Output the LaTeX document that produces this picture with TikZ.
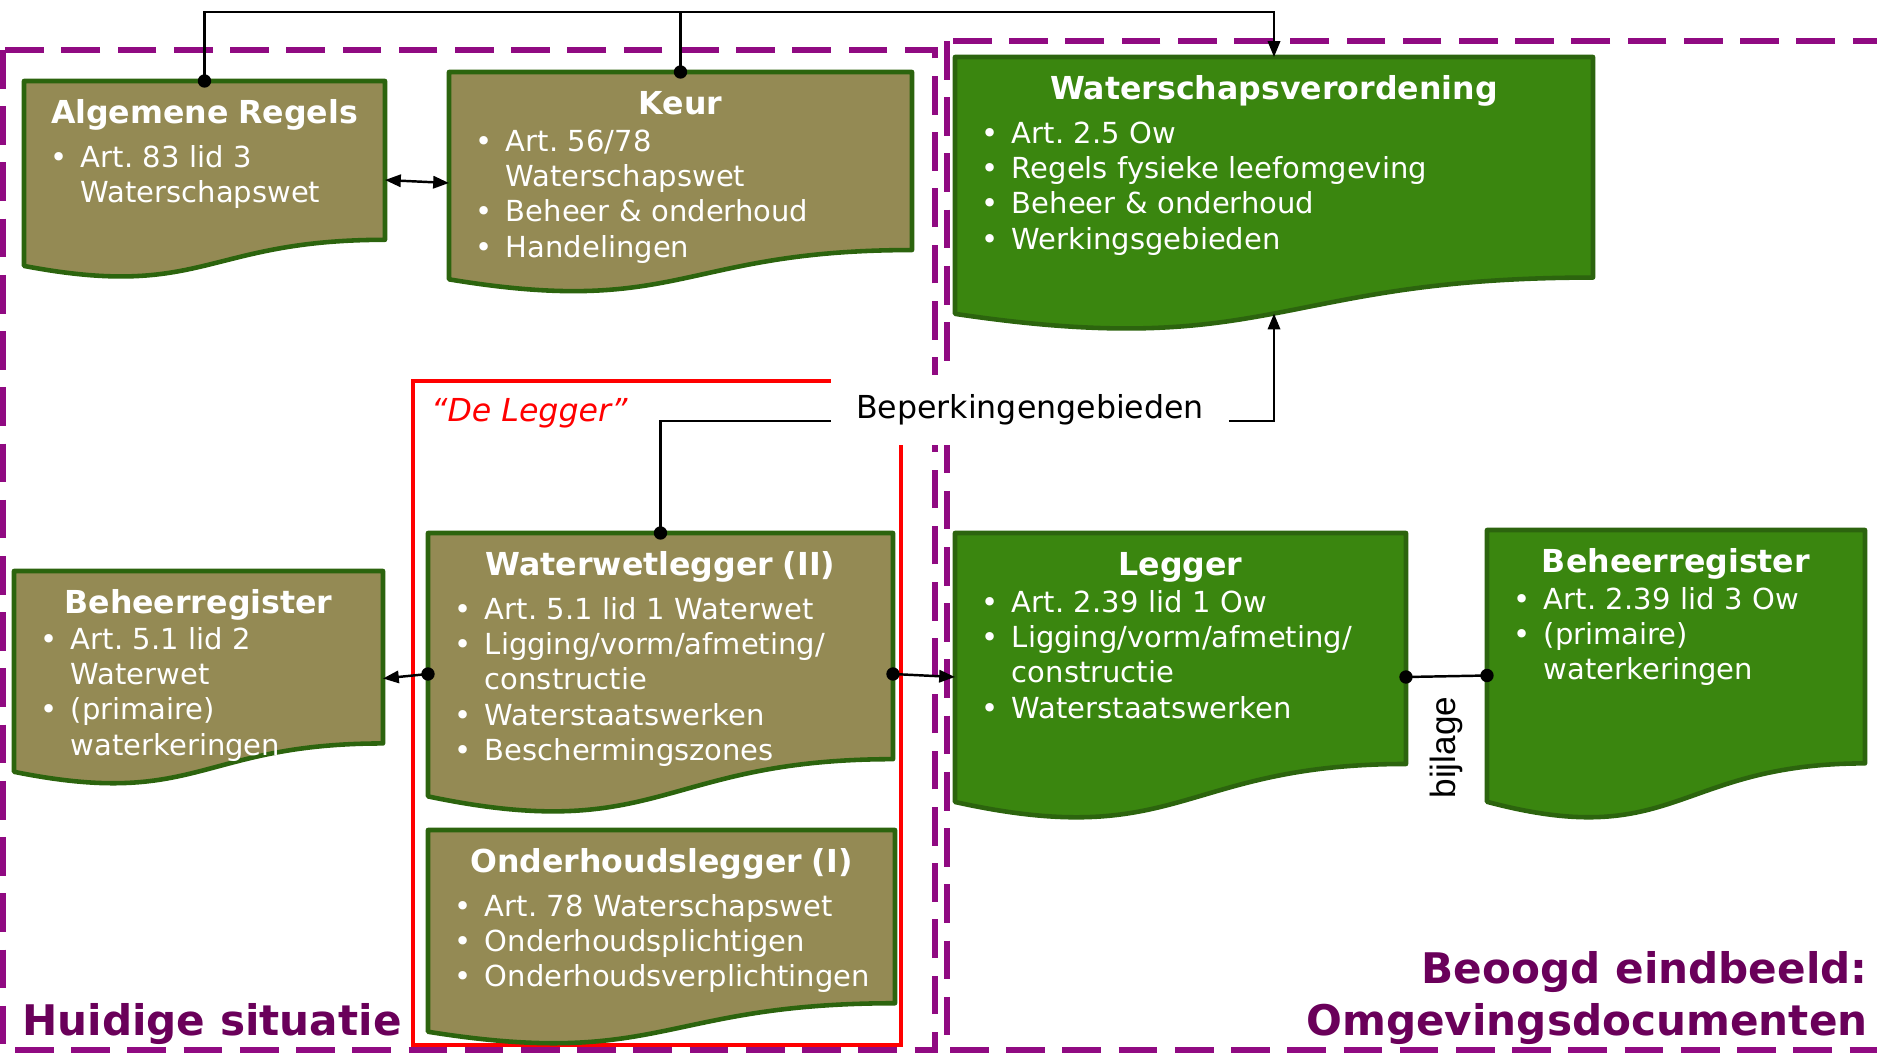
\documentclass[tikz,border=0pt]{standalone}
\usepackage{fontspec}
\setmainfont{DejaVu Sans}
\newfontfamily\bijlagefont{Liberation Sans}
\usetikzlibrary{arrows.meta,calc}
\frenchspacing

\definecolor{olivefill}{RGB}{148,138,84}
\definecolor{greenfill}{RGB}{58,134,15}
\definecolor{docborder}{RGB}{44,100,14}
\definecolor{dashpurple}{RGB}{144,10,130}
\definecolor{labelpurple}{RGB}{106,0,90}

\tikzset{
  ahead/.tip={Triangle[length=9pt,width=7pt]},
  docframe/.style={draw=none, inner sep=0pt, outer sep=0pt, anchor=north west},
  doctext/.style={anchor=north, inner sep=0pt, text=white, align=left,
    font=\fontsize{16.5}{20.1}\selectfont},
  olivedoc/.style={fill=olivefill, draw=docborder, line width=2.6pt, line join=round},
  greendoc/.style={fill=greenfill, draw=docborder, line width=2.6pt, line join=round},
  region/.style={draw=dashpurple, line width=3.4pt, dash pattern=on 22pt off 10pt},
  redframe/.style={draw=red, line width=2.5pt},
  conn/.style={draw=black, line width=1.4pt},
  regionlabel/.style={text=labelpurple, font=\bfseries\fontsize{24}{30}\selectfont, inner sep=0pt},
  beplabel/.style={fill=white, inner xsep=14pt, inner ysep=11pt, font=\fontsize{18}{22}\selectfont}
}

% title line, then gap before the first bullet
\newcommand{\doctitle}[2]{\noindent\makebox[\hsize]{\rule{0pt}{24pt}\bfseries\fontsize{18}{22}\selectfont #1}\par\vspace{#2}}
\newcommand{\docitem}[1]{\par\noindent\hspace*{14.8pt}\makebox[17.6pt][l]{\textbullet}#1}
\newcommand{\docmore}[1]{\par\noindent\hspace*{32.4pt}#1}

% name, north west corner, width, height, style, text
\newcommand{\docbox}[6]{%
  \pgfmathsetlengthmacro{\docw}{#3*0.02cm}%
  \pgfmathsetlengthmacro{\doch}{#4*0.02cm}%
  \node[docframe, minimum width=\docw, minimum height=\doch] (#1) at #2 {};
  \draw[#5] (#1.north west) -- (#1.north east) -- ($(#1.north east)!0.802!(#1.south east)$)
    .. controls ($(#1.north)!0.802!(#1.south)$) and ($(#1.north)!1.107!(#1.south)$)
    .. ($(#1.north west)!0.934!(#1.south west)$) -- cycle;
  \node[doctext, text width=\docw] (#1-text) at (#1.north) {#6};
}

\begin{document}
\begin{tikzpicture}[x=0.02cm, y=-0.02cm]
\useasboundingbox (0,0) rectangle (1877,1052);

% regions
\draw[region] (3,50) rectangle (935,1050);
\draw[region] (947,41) rectangle (1900,1050);
\draw[redframe] (413,381) rectangle (901,1045);
\node[anchor=west, text=red, font=\fontsize{18}{22}\selectfont\itshape] (deleg) at (425,413) {“De Legger”};
\node[beplabel] (bep) at (1030,410) {Beperkingengebieden};

% documents
\docbox{alg}{(24,81)}{361}{198}{olivedoc}{\doctitle{Algemene Regels}{4.8pt}\docitem{Art. 83 lid 3}\docmore{Waterschapswet}}
\docbox{keur}{(449,72)}{463}{222}{olivedoc}{\doctitle{Keur}{0.8pt}\docitem{Art. 56/78}\docmore{Waterschapswet}\docitem{Beheer \& onderhoud}\docitem{Handelingen}}
\docbox{wsv}{(955,57)}{638}{275}{greendoc}{\doctitle{Waterschapsverordening}{4.8pt}\docitem{Art. 2.5 Ow}\docitem{Regels fysieke leefomgeving}\docitem{Beheer \& onderhoud}\docitem{Werkingsgebieden}}
\docbox{bhrl}{(14,571)}{369}{215}{olivedoc}{\doctitle{Beheerregister}{0.2pt}\docitem{Art. 5.1 lid 2}\docmore{Waterwet}\docitem{(primaire)}\docmore{waterkeringen}}
\docbox{wwl}{(428,533)}{465}{282}{olivedoc}{\doctitle{Waterwetlegger (II)}{4.8pt}\docitem{Art. 5.1 lid 1 Waterwet}\docitem{Ligging/vorm/afmeting/}\docmore{constructie}\docitem{Waterstaatswerken}\docitem{Beschermingszones}}
\docbox{ohl}{(428,830)}{467}{216}{olivedoc}{\doctitle{Onderhoudslegger (I)}{4.8pt}\docitem{Art. 78 Waterschapswet}\docitem{Onderhoudsplichtigen}\docitem{Onderhoudsverplichtingen}}
\docbox{leg}{(955,533)}{451}{288}{greendoc}{\doctitle{Legger}{0.8pt}\docitem{Art. 2.39 lid 1 Ow}\docitem{Ligging/vorm/afmeting/}\docmore{constructie}\docitem{Waterstaatswerken}}
\docbox{bhrr}{(1487,530)}{378}{291}{greendoc}{\doctitle{Beheerregister}{0.8pt}\docitem{Art. 2.39 lid 3 Ow}\docitem{(primaire)}\docmore{waterkeringen}}

% connectors
\coordinate (topbar) at (0,12);
\coordinate (bepline) at (0,421);
\draw[conn, -{ahead}] (alg.north) -- (alg.north |- topbar) -- (wsv.north |- topbar) -- (wsv.north);
\draw[conn] (keur.north) -- (keur.north |- topbar);
\draw[conn, {ahead}-{ahead}] (alg.east) -- (keur.west);
\draw[conn] (wwl.north) |- (bep.west |- bepline);
\draw[conn, -{ahead}] (bep.east |- bepline) -| ($(wsv.north)!0.933!(wsv.south)$);
\draw[conn, -{ahead}] (wwl.west) -- (bhrl.east);
\draw[conn, -{ahead}] (wwl.east) -- (leg.west);
\draw[conn] (leg.east) -- node[pos=0.5, rotate=90, anchor=east, inner xsep=11pt, font=\bijlagefont\fontsize{20}{24}\selectfont] (bijl) {bijlage} (bhrr.west);
\foreach \p in {alg.north, keur.north, wwl.north, wwl.west, wwl.east, leg.east, bhrr.west}
  \fill (\p) circle[radius=3.8pt];

% region titles
\node[regionlabel, anchor=west] (huidig) at (22,1024) {Huidige situatie};
\node[regionlabel, anchor=east, align=right] (beoogd) at (1868,998) {Beoogd eindbeeld:\\Omgevingsdocumenten};
\end{tikzpicture}
\end{document}
